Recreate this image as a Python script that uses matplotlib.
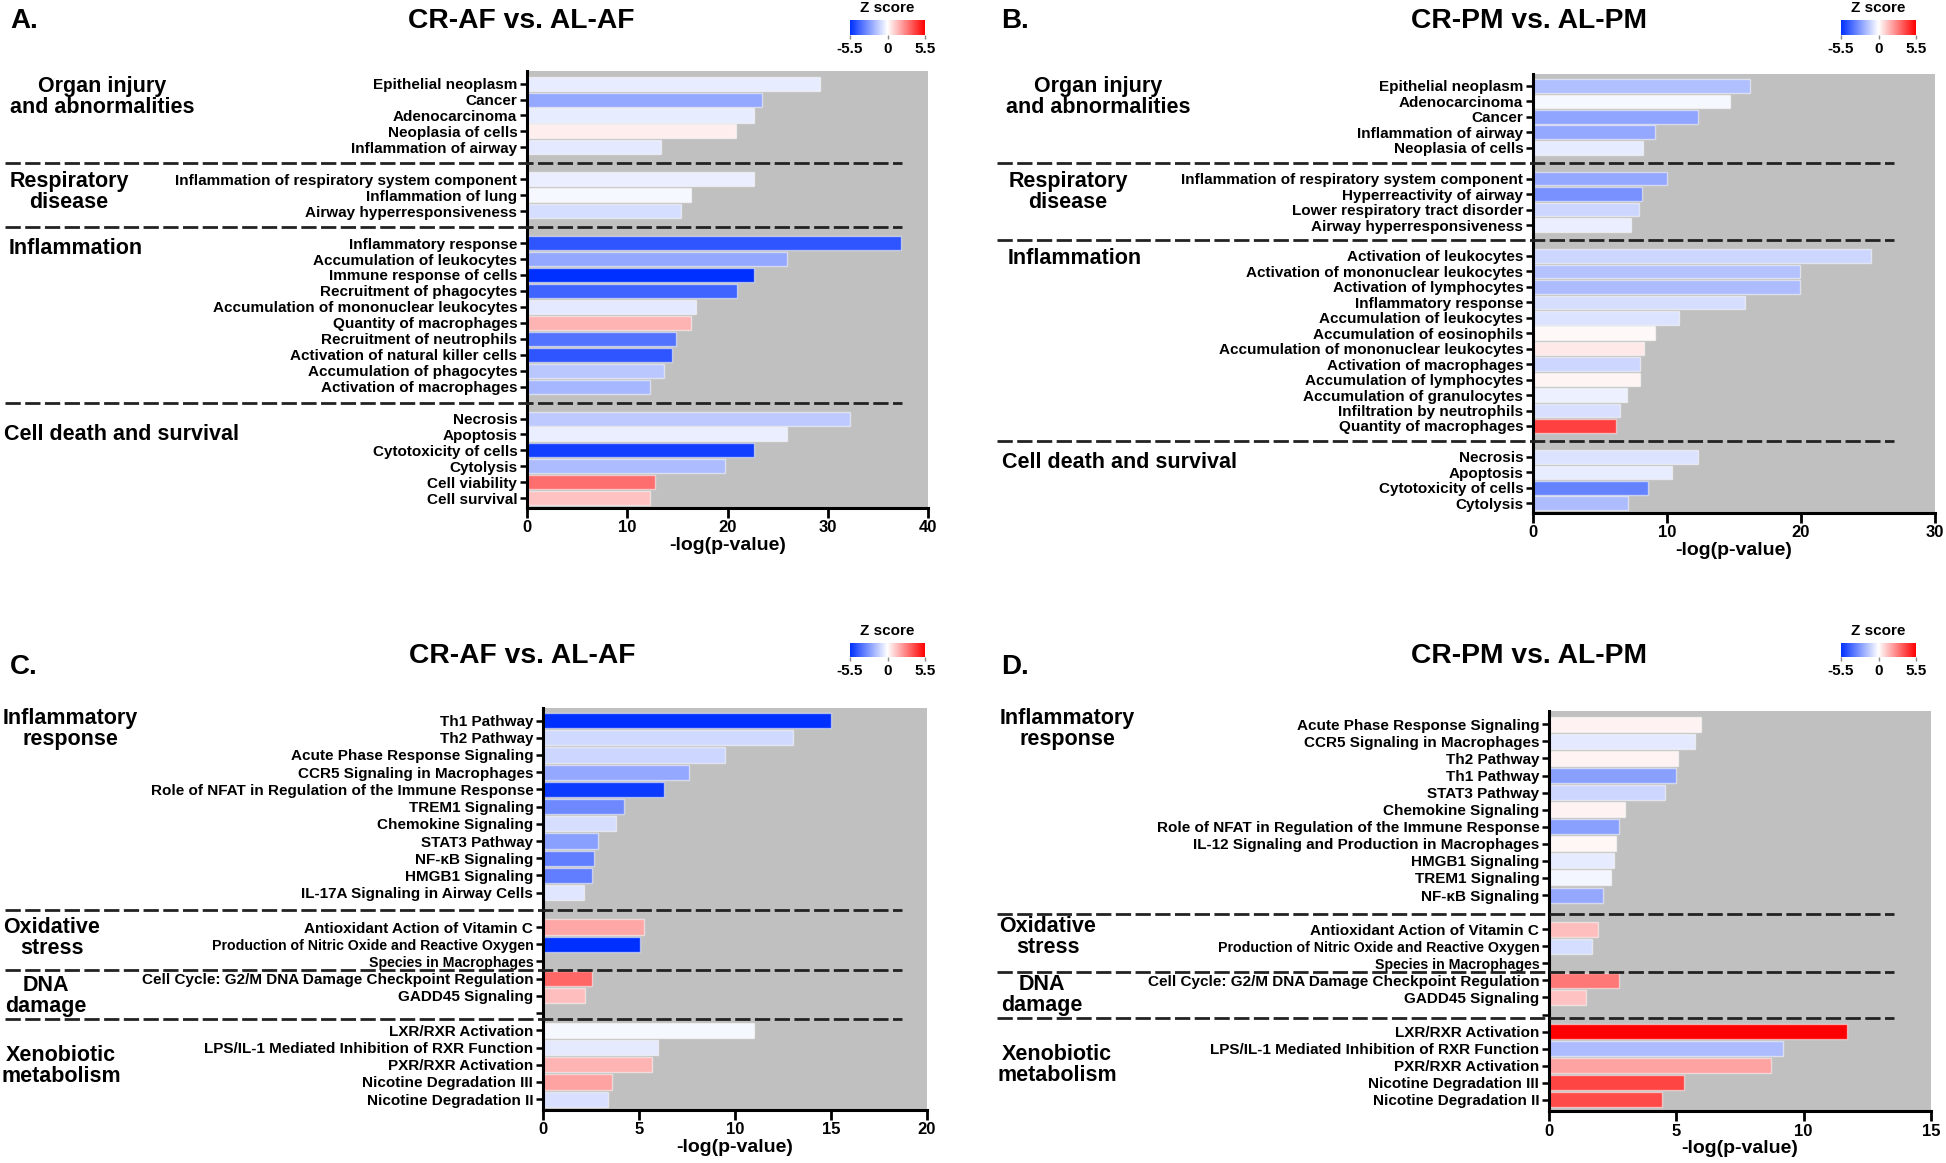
import numpy as np
import matplotlib
matplotlib.use('Agg')
import matplotlib.pyplot as plt
from matplotlib.colors import LinearSegmentedColormap, Normalize
from matplotlib.lines import Line2D
import matplotlib.transforms as mtransforms

plt.rcParams['font.family'] = ['Liberation Sans', 'DejaVu Sans']
plt.rcParams['font.weight'] = 'bold'
plt.rcParams['axes.labelweight'] = 'bold'

# ---------------- data ----------------
# Panel A: CR-AF vs. AL-AF (diseases & functions)
groups_A = ["Organ injury\nand abnormalities", "Respiratory\ndisease", "Inflammation", "Cell death and survival"]
sizes_A = [5, 3, 10, 6]
terms_A = ["Epithelial neoplasm", "Cancer", "Adenocarcinoma", "Neoplasia of cells", "Inflammation of airway",
           "Inflammation of respiratory system component", "Inflammation of lung", "Airway hyperresponsiveness",
           "Inflammatory response", "Accumulation of leukocytes", "Immune response of cells",
           "Recruitment of phagocytes", "Accumulation of mononuclear leukocytes", "Quantity of macrophages",
           "Recruitment of neutrophils", "Activation of natural killer cells", "Accumulation of phagocytes",
           "Activation of macrophages",
           "Necrosis", "Apoptosis", "Cytotoxicity of cells", "Cytolysis", "Cell viability", "Cell survival"]
logp_A = [29.2, 23.4, 22.6, 20.8, 13.4,
          22.6, 16.4, 15.4,
          37.3, 25.9, 22.6, 20.9, 16.9, 16.4, 14.9, 14.5, 13.7, 12.3,
          32.2, 25.9, 22.6, 19.8, 12.8, 12.3]
z_A = [-0.5, -2.3, -0.5, 0.35, -0.6,
       -0.45, -0.2, -0.9,
       -4.5, -2.3, -5.5, -4.1, -0.6, 1.6, -3.7, -4.5, -1.5, -1.9,
       -1.4, -0.45, -5.1, -1.8, 3.1, 1.3]

# Panel B: CR-PM vs. AL-PM (diseases & functions)
groups_B = ["Organ injury\nand abnormalities", "Respiratory\ndisease", "Inflammation", "Cell death and survival"]
sizes_B = [5, 4, 12, 4]
terms_B = ["Epithelial neoplasm", "Adenocarcinoma", "Cancer", "Inflammation of airway", "Neoplasia of cells",
           "Inflammation of respiratory system component", "Hyperreactivity of airway",
           "Lower respiratory tract disorder", "Airway hyperresponsiveness",
           "Activation of leukocytes", "Activation of mononuclear leukocytes", "Activation of lymphocytes",
           "Inflammatory response", "Accumulation of leukocytes", "Accumulation of eosinophils",
           "Accumulation of mononuclear leukocytes", "Activation of macrophages", "Accumulation of lymphocytes",
           "Accumulation of granulocytes", "Infiltration by neutrophils", "Quantity of macrophages",
           "Necrosis", "Apoptosis", "Cytotoxicity of cells", "Cytolysis"]
logp_B = [16.2, 14.7, 12.3, 9.1, 8.2,
          10.0, 8.1, 7.9, 7.3,
          25.2, 19.9, 19.9, 15.8, 10.9, 9.1, 8.3, 8.0, 8.0, 7.0, 6.5, 6.2,
          12.3, 10.4, 8.6, 7.1]
z_B = [-1.7, -0.2, -2.4, -2.3, -0.55,
       -2.3, -2.9, -1.1, -0.45,
       -1.1, -1.6, -1.8, -0.9, -0.75, 0.15, 0.5, -1.1, 0.25, -0.4, -0.85, 4.1,
       -0.75, -0.5, -3.3, -1.8]

# Panel C: CR-AF vs. AL-AF (canonical pathways)
groups_C = ["Inflammatory\nresponse", "Oxidative\nstress", "DNA\ndamage", "Xenobiotic\nmetabolism"]
sizes_C = [11, 3, 3, 5]
terms_C = ["Th1 Pathway", "Th2 Pathway", "Acute Phase Response Signaling", "CCR5 Signaling in Macrophages",
           "Role of NFAT in Regulation of the Immune Response", "TREM1 Signaling", "Chemokine Signaling",
           "STAT3 Pathway", "NF-κB Signaling", "HMGB1 Signaling", "IL-17A Signaling in Airway Cells",
           "Antioxidant Action of Vitamin C", "Production of Nitric Oxide and Reactive Oxygen",
           "Species in Macrophages",
           "Cell Cycle: G2/M DNA Damage Checkpoint Regulation", "GADD45 Signaling", "",
           "LXR/RXR Activation", "LPS/IL-1 Mediated Inhibition of RXR Function", "PXR/RXR Activation",
           "Nicotine Degradation III", "Nicotine Degradation II"]
logp_C = [15.0, 13.0, 9.46, 7.6, 6.3, 4.2, 3.8, 2.85, 2.65, 2.55, 2.15,
          5.25, 5.05, np.nan,
          2.55, 2.2, np.nan,
          11.0, 6.0, 5.7, 3.6, 3.4]
z_C = [-5.5, -1.0, -1.1, -2.3, -5.2, -3.1, -0.9, -2.5, -3.4, -3.4, -0.65,
       1.9, -5.5, np.nan,
       3.3, 1.4, np.nan,
       -0.2, -0.6, 1.6, 2.0, -0.85]

# Panel D: CR-PM vs. AL-PM (canonical pathways)
groups_D = ["Inflammatory\nresponse", "Oxidative\nstress", "DNA\ndamage", "Xenobiotic\nmetabolism"]
sizes_D = [11, 3, 3, 5]
terms_D = ["Acute Phase Response Signaling", "CCR5 Signaling in Macrophages", "Th2 Pathway", "Th1 Pathway",
           "STAT3 Pathway", "Chemokine Signaling", "Role of NFAT in Regulation of the Immune Response",
           "IL-12 Signaling and Production in Macrophages", "HMGB1 Signaling", "TREM1 Signaling",
           "NF-κB Signaling",
           "Antioxidant Action of Vitamin C", "Production of Nitric Oxide and Reactive Oxygen",
           "Species in Macrophages",
           "Cell Cycle: G2/M DNA Damage Checkpoint Regulation", "GADD45 Signaling", "",
           "LXR/RXR Activation", "LPS/IL-1 Mediated Inhibition of RXR Function", "PXR/RXR Activation",
           "Nicotine Degradation III", "Nicotine Degradation II"]
logp_D = [5.96, 5.72, 5.07, 4.98, 4.55, 2.99, 2.73, 2.63, 2.54, 2.42, 2.13,
          1.94, 1.67, np.nan,
          2.73, 1.44, np.nan,
          11.7, 9.19, 8.71, 5.29, 4.45]
z_D = [0.3, -0.6, 0.3, -2.5, -1.1, 0.3, -2.5, 0.2, -0.55, -0.25, -2.3,
       1.4, -0.9, np.nan,
       2.9, 1.3, np.nan,
       5.5, -1.8, 2.0, 4.0, 3.9]

titles = ["CR-AF vs. AL-AF", "CR-PM vs. AL-PM", "CR-AF vs. AL-AF", "CR-PM vs. AL-PM"]
letters = ["A.", "B.", "C.", "D."]
zlim = 5.5

# ---------------- style / layout ----------------
W, H = 1946, 1163
fig = plt.figure(figsize=(W / 100, H / 100), dpi=100)
cmap = LinearSegmentedColormap.from_list("bwr_ipa", [(0.0, "#0030FF"), (0.5, "#FFFFFF"), (1.0, "#FF0000")])
norm = Normalize(-zlim, zlim)
small_terms = {"Production of Nitric Oxide and Reactive Oxygen", "Species in Macrophages"}


def fx(px):
    return px / W


def fy(py):
    return 1 - py / H


def positions(sizes, gap_after):
    pos, cur, seps = [], 0, []
    for i, s in enumerate(sizes):
        pos.extend(range(cur, cur + s))
        cur += s
        if i < len(sizes) - 1 and gap_after[i]:
            seps.append(cur)
            cur += 1
    return np.array(pos, dtype=float), seps


panels = [
    dict(terms=terms_A, logp=logp_A, z=z_A, groups=groups_A, sizes=sizes_A, gaps=[1, 1, 1],
         rect=(527, 71, 928, 508), ypad=(0.79, 0.61), xmax=40, xstep=10, seps=None,
         title=(521, 21), letter=(10, 21), cbar=(850, 20, 925, 35), dash=(5, 902),
         glabels=[(102, 97, 'center'), (69, 192, 'center'), (9, 248, 'left'), (4, 434, 'left')]),
    dict(terms=terms_B, logp=logp_B, z=z_B, groups=groups_B, sizes=sizes_B, gaps=[1, 1, 1],
         rect=(1533, 74, 1935, 513), ypad=(0.77, 0.63), xmax=30, xstep=10, seps=None,
         title=(1529, 21), letter=(1001, 21), cbar=(1841, 20, 1916, 35), dash=(997, 1894),
         glabels=[(1098, 97, 'center'), (1068, 192, 'center'), (1008, 258, 'left'), (1002, 463, 'left')]),
    dict(terms=terms_C, logp=logp_C, z=z_C, groups=groups_C, sizes=sizes_C, gaps=[1, 0, 0],
         rect=(543, 708, 927, 1110), ypad=(0.73, 0.63), xmax=20, xstep=5, seps=[11, 14.5, 17.35],
         title=(522, 656), letter=(10, 667), cbar=(850, 643, 925, 657), dash=(5, 902),
         glabels=[(70, 729, 'center'), (52, 938, 'center'), (46, 996, 'center'), (61, 1066, 'center')]),
    dict(terms=terms_D, logp=logp_D, z=z_D, groups=groups_D, sizes=sizes_D, gaps=[1, 0, 0],
         rect=(1549, 711, 1931, 1111), ypad=(0.78, 0.65), xmax=15, xstep=5, seps=[11.1, 14.5, 17.2],
         title=(1529, 656), letter=(1001, 667), cbar=(1841, 643, 1916, 657), dash=(997, 1894),
         glabels=[(1067, 729, 'center'), (1048, 937, 'center'), (1042, 995, 'center'), (1057, 1065, 'center')]),
]

for i, p in enumerate(panels):
    x0, y0, x1, y1 = p['rect']
    ax = fig.add_axes([fx(x0), fy(y1), (x1 - x0) / W, (y1 - y0) / H])
    ax.set_facecolor('#C0C0C0')
    pos, seps = positions(p['sizes'], p['gaps'])
    if p['seps'] is not None:
        seps = p['seps']
    logp = np.array(p['logp'], dtype=float)
    z = np.array(p['z'], dtype=float)
    ok = ~np.isnan(logp)
    ax.barh(pos[ok], logp[ok], height=0.88, color=cmap(norm(z[ok])),
            edgecolor=(1, 1, 1, 0.5), linewidth=1.0, zorder=2)
    ax.set_xlim(0, p['xmax'])
    ax.set_ylim(pos[-1] + p['ypad'][1], -p['ypad'][0])
    ax.set_yticks(pos)
    ax.set_yticklabels(p['terms'])
    for lab in ax.get_yticklabels():
        lab.set_fontweight('bold')
        if lab.get_text() in small_terms:
            lab.set_fontsize(10.2)
        else:
            lab.set_fontsize(11)
    ax.set_xticks(np.arange(0, p['xmax'] + 0.01, p['xstep']))
    ax.tick_params(axis='y', length=5, width=1.8, pad=2)
    ax.tick_params(axis='x', length=7, width=2, labelsize=12, pad=2)
    for lab in ax.get_xticklabels():
        lab.set_fontweight('bold')
    for s in ['top', 'right']:
        ax.spines[s].set_visible(False)
    for s in ['left', 'bottom']:
        ax.spines[s].set_linewidth(2.2)
        ax.spines[s].set_color('black')
    ax.set_xlabel('-log(p-value)', fontsize=14, fontweight='bold', labelpad=1)

    # dashed separators
    tr = mtransforms.blended_transform_factory(fig.transFigure, ax.transData)
    for sy in seps:
        ln = Line2D([fx(p['dash'][0]), fx(p['dash'][1])], [sy, sy], transform=tr,
                    color='#222222', lw=2.0, linestyle=(0, (5.5, 1.6)), zorder=10)
        fig.add_artist(ln)

    # group labels
    for g, (gx, gy, ha) in zip(p['groups'], p['glabels']):
        fig.text(fx(gx), fy(gy), g, ha=ha, va='center', multialignment='center',
                 fontsize=15.5, fontweight='bold', linespacing=1.0)

    # title and letter
    fig.text(fx(p['title'][0]), fy(p['title'][1]), titles[i], ha='center', va='center',
             fontsize=20.3, fontweight='bold')
    fig.text(fx(p['letter'][0]), fy(p['letter'][1]), letters[i], ha='left', va='center',
             fontsize=20, fontweight='bold')

    # colorbar
    cx0, cy0, cx1, cy1 = p['cbar']
    cax = fig.add_axes([fx(cx0), fy(cy1), (cx1 - cx0) / W, (cy1 - cy0) / H])
    sm = plt.cm.ScalarMappable(norm=norm, cmap=cmap)
    cb = fig.colorbar(sm, cax=cax, orientation='horizontal')
    cb.outline.set_visible(False)
    cb.set_ticks([-5.5, 0, 5.5])
    cb.set_ticklabels(['-5.5', '0', '5.5'])
    cax.tick_params(length=3, width=1, color='#888888', labelsize=11, pad=2)
    for lab in cax.get_xticklabels():
        lab.set_fontweight('bold')
    fig.text(fx((cx0 + cx1) / 2), fy(cy0 - 12), 'Z score', ha='center', va='center',
             fontsize=11, fontweight='bold')

fig.savefig('out.png', dpi=100, facecolor='white')
